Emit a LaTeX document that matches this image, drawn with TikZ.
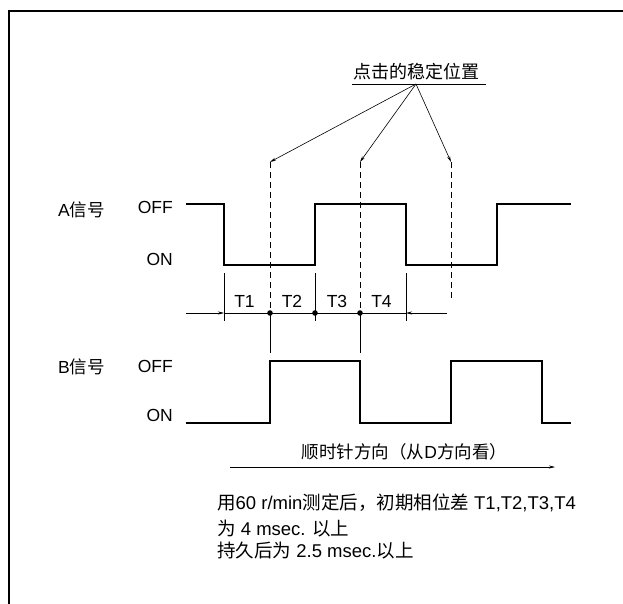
\documentclass[tikz,border=0pt]{standalone}
\usepackage{fontspec}
\setmainfont{Liberation Sans}
\newfontfamily\cjk{Noto Sans CJK SC}
\usetikzlibrary{arrows.meta}
\begin{document}
\begin{tikzpicture}[x=1pt,y=-1pt,
  wave/.style={line width=1.4pt,line join=miter},
  thin/.style={line width=0.6pt},
  dashline/.style={line width=0.7pt,dash pattern=on 6pt off 4pt},
  tip/.style={-{Stealth[length=6pt,width=3pt]}},
  lbl/.style={font=\fontsize{17.5}{21}\selectfont,inner sep=0pt},
  big/.style={font=\fontsize{18}{22}\selectfont,inner sep=0pt},
  note/.style={font=\fontsize{18.5}{22}\selectfont,inner sep=0pt}]
\useasboundingbox (0,0) rectangle (623,604);
% frame
\draw[line width=2pt] (9,604) -- (9,11) -- (623,11);
% labels
\node[lbl,anchor=east] (asig) at (105,210) {A{\cjk 信号}};
\node[lbl,anchor=east] (aoff) at (173,207.5) {OFF};
\node[lbl,anchor=east] (aon) at (173,259.5) {ON};
\node[lbl,anchor=east] (bsig) at (105,367) {B{\cjk 信号}};
\node[lbl,anchor=east] (boff) at (173,366) {OFF};
\node[lbl,anchor=east] (bon) at (173,415.5) {ON};
% A waveform
\draw[wave] (186,204) -- (224,204) -- (224,265) -- (315,265) -- (315,204) -- (406,204) -- (406,265) -- (497,265) -- (497,204) -- (571,204);
% B waveform
\draw[wave] (186,423) -- (270,423) -- (270,361) -- (360,361) -- (360,423) -- (451,423) -- (451,361) -- (542,361) -- (542,423) -- (571,423);
% stable positions
\node[big,anchor=south] (stab) at (416,80) {{\cjk 点击的稳定位置}};
\draw[thin] (352,84) -- (486,84);
\coordinate (apex) at (416,84);
\coordinate (p1) at (270,162);
\coordinate (p2) at (360,162);
\coordinate (p3) at (451,162);
\draw[thin,tip] (apex) -- (p1);
\draw[thin,tip] (apex) -- (p2);
\draw[thin,tip] (apex) -- (p3);
% dashed lines
\coordinate (d1) at (270,313);
\coordinate (d2) at (360,313);
\coordinate (d3) at (451,300);
\draw[dashline] (p1) -- (d1);
\draw[dashline] (p2) -- (d2);
\draw[dashline] (p3) -- (d3);
\draw[thin] (d1) -- (270,353);
\draw[thin] (d2) -- (360,353);
% ticks
\draw[thin] (224,273) -- (224,321);
\draw[thin] (315,273) -- (315,321);
\draw[thin] (406,273) -- (406,321);
% timing line
\coordinate (tl) at (186,313);
\coordinate (tr) at (447,313);
\coordinate (ta) at (224,313);
\coordinate (tb) at (406,313);
\draw[thin,tip] (tl) -- (ta);
\draw[thin,tip] (tr) -- (tb);
\draw[thin] (ta) -- (tb);
\foreach \x in {270,315,360} \fill (\x,313) circle (2.8pt);
\node[lbl] (t1) at (244.5,301.5) {T1};
\node[lbl] (t2) at (292,301.5) {T2};
\node[lbl] (t3) at (337,301.5) {T3};
\node[lbl] (t4) at (381.5,301.5) {T4};
% direction
\coordinate (ds) at (230,467);
\coordinate (de) at (555,467);
\draw[thin,tip] (ds) -- (de);
\node[font=\fontsize{17.5}{20}\selectfont,inner sep=0pt] (dir) at (404.5,452) {{\cjk 顺时针方向（从}D{\cjk 方向看）}};
% notes
\node[note,anchor=west] (n1) at (217,503) {{\cjk 用}60 r/min{\cjk 测定后，初期相位差} T1,T2,T3,T4};
\node[note,anchor=west] (n2) at (217,529) {{\cjk 为} 4 msec. {\cjk 以上}};
\node[note,anchor=west] (n3) at (217,551) {{\cjk 持久后为} 2.5 msec.{\cjk 以上}};
\end{tikzpicture}
\end{document}
